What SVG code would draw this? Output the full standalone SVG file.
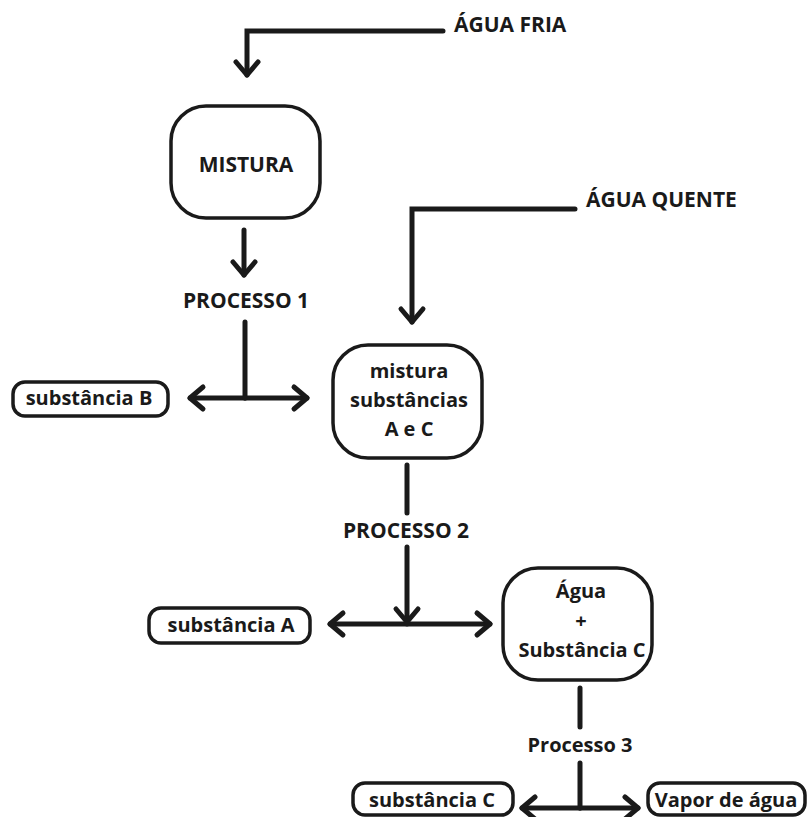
<svg xmlns="http://www.w3.org/2000/svg" width="807" height="817" viewBox="0 0 807 817">
<defs>
<marker id="chev" markerUnits="userSpaceOnUse" markerWidth="40" markerHeight="40" refX="0" refY="0" viewBox="-20 -20 40 40" orient="auto" overflow="visible">
<path d="M-13,-11 L0,0 L-13,11" fill="none" stroke="#1a1a1a" stroke-width="5" stroke-linecap="round" stroke-linejoin="round"/>
</marker>
<style>
.bg{fill:#ffffff}
.box{fill:#ffffff;stroke:#1a1a1a;stroke-width:3.5}
.c{fill:none;stroke:#1a1a1a;stroke-width:5;stroke-linecap:round;stroke-linejoin:miter}
.a{marker-end:url(#chev)}
text{font-family:"Open Sans","Liberation Sans",sans-serif;font-weight:700;font-size:20px;fill:#1a1a1a}
.m{text-anchor:middle}
.u{font-size:21px}
</style>
</defs>
<rect class="bg" x="0" y="0" width="807" height="817"/>
<g id="connectors">
<path class="c a" d="M443,31 H247 V75"/>
<path class="c a" d="M244,230 V275"/>
<path class="c" d="M245,322 V398"/>
<path class="c a" d="M245,398 H190"/>
<path class="c a" d="M245,398 H307"/>
<path class="c a" d="M575,209 H412 V322"/>
<path class="c" d="M407,465 V513"/>
<path class="c a" d="M407,547 V622"/>
<path class="c a" d="M407,624 H330"/>
<path class="c a" d="M407,624 H490"/>
<path class="c" d="M580,688 V727"/>
<path class="c" d="M580,763 V808"/>
<path class="c a" d="M580,808 H522"/>
<path class="c a" d="M580,808 H638"/>
</g>
<g id="labels">
<text class="u" x="454" y="32">ÁGUA FRIA</text>
<text class="u" x="586" y="207">ÁGUA QUENTE</text>
<text class="m u" x="246" y="308">PROCESSO 1</text>
<text class="m u" x="406" y="538">PROCESSO 2</text>
<text class="m" x="580" y="752">Processo 3</text>
</g>
<g id="mistura">
<rect class="box" x="171" y="106" width="149" height="112" rx="35"/>
<text class="m u" x="246" y="172">MISTURA</text>
</g>
<g id="substancia-b">
<rect class="box" x="13" y="382" width="155" height="34" rx="12"/>
<text class="m" x="89" y="405">substância B</text>
</g>
<g id="mistura-ac">
<rect class="box" x="333" y="345" width="149" height="113" rx="35"/>
<text class="m" x="409" y="378">mistura</text>
<text class="m" x="409" y="407">substâncias</text>
<text class="m" x="409" y="436">A e C</text>
</g>
<g id="substancia-a">
<rect class="box" x="149" y="608" width="161" height="35" rx="12"/>
<text class="m" x="231" y="632">substância A</text>
</g>
<g id="agua-c">
<rect class="box" x="503" y="568" width="149" height="112" rx="35"/>
<text class="m" x="581" y="598">Água</text>
<text class="m" x="581" y="628">+</text>
<text class="m" x="582" y="657">Substância C</text>
</g>
<g id="substancia-c">
<rect class="box" x="353" y="783" width="160" height="32" rx="12"/>
<text class="m" x="432" y="807">substância C</text>
</g>
<g id="vapor">
<rect class="box" x="648" y="783" width="157" height="32" rx="12"/>
<text class="m" x="726" y="807">Vapor de água</text>
</g>
</svg>
